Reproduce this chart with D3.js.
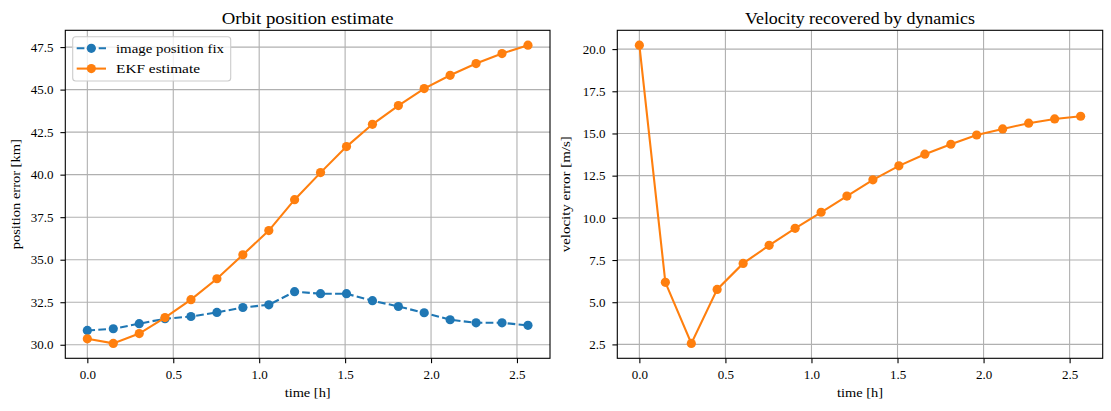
<!DOCTYPE html>
<html>
<head>
<meta charset="utf-8">
<script src="https://cdn.jsdelivr.net/npm/d3@7"></script>
<style>
  body { margin: 0; background: #fff; }
  svg { display: block; font-family: "Liberation Serif", "DejaVu Serif", serif; }
</style>
</head>
<body>
<svg id="chart" width="1111" height="411"></svg>
<script>
// time samples [h]
const times = [0, 0.151, 0.302, 0.452, 0.603, 0.754, 0.905, 1.056, 1.206, 1.357, 1.508, 1.659, 1.810, 1.960, 2.111, 2.262, 2.413, 2.564];
// position error [km]
const imageFix = [30.84, 30.94, 31.24, 31.53, 31.66, 31.90, 32.19, 32.35, 33.12, 33.00, 33.00, 32.59, 32.25, 31.88, 31.47, 31.29, 31.29, 31.14];
const ekfPos = [30.35, 30.08, 30.66, 31.60, 32.65, 33.88, 35.29, 36.71, 38.53, 40.12, 41.65, 42.96, 44.06, 45.06, 45.84, 46.53, 47.12, 47.61];
// velocity error [m/s]
const ekfVel = [20.23, 6.18, 2.56, 5.76, 7.30, 8.37, 9.38, 10.33, 11.29, 12.25, 13.08, 13.77, 14.36, 14.91, 15.27, 15.61, 15.86, 16.02];

const xTicks = [0, 0.5, 1.0, 1.5, 2.0, 2.5];
const posTicks = [30, 32.5, 35, 37.5, 40, 42.5, 45, 47.5];
const velTicks = [2.5, 5, 7.5, 10, 12.5, 15, 17.5, 20];

const blue = "#1f77b4", orange = "#ff7f0e";
const dash = "7.7,3.3";
const svg = d3.select("#chart");

// matplotlib style 5% margins
function padded(vals) {
  const [a, b] = d3.extent(vals);
  const m = (b - a) * 0.05;
  return [a - m, b + m];
}

// Liberation Serif is narrower than the LaTeX font, so stretch to the measured widths
function label(sel, x, y, txt, size, width) {
  const t = sel.append("text").attr("x", x).attr("y", y)
    .attr("font-size", size).text(txt);
  if (width) t.attr("textLength", width).attr("lengthAdjust", "spacingAndGlyphs");
  return t;
}

function panel(opts) {
  const { left, right, top, bottom } = opts;
  const x = d3.scaleLinear().domain(padded(times)).range([left, right]);
  const y = d3.scaleLinear().domain(padded(opts.allY)).range([bottom, top]);
  const g = svg.append("g");

  // grid
  g.selectAll(".vg").data(xTicks).enter().append("line")
    .attr("x1", d => x(d)).attr("x2", d => x(d))
    .attr("y1", top).attr("y2", bottom)
    .attr("stroke", "#b0b0b0").attr("stroke-width", 1.1);
  g.selectAll(".hg").data(opts.yTicks).enter().append("line")
    .attr("x1", left).attr("x2", right)
    .attr("y1", d => y(d)).attr("y2", d => y(d))
    .attr("stroke", "#b0b0b0").attr("stroke-width", 1.1);

  // series
  opts.series.forEach(s => {
    const pts = times.map((t, i) => [t, s.values[i]]);
    g.append("path").datum(pts)
      .attr("fill", "none").attr("stroke", s.color).attr("stroke-width", 2.1)
      .attr("stroke-dasharray", s.dashed ? dash : null)
      .attr("d", d3.line().x(d => x(d[0])).y(d => y(d[1])));
    g.selectAll(null).data(pts).enter().append("circle")
      .attr("cx", d => x(d[0])).attr("cy", d => y(d[1])).attr("r", 4.6)
      .attr("fill", s.color);
  });

  // axes
  const xa = g.append("g").attr("transform", `translate(0,${bottom})`)
    .call(d3.axisBottom(x).tickValues(xTicks).tickFormat(d3.format(".1f")).tickSize(4.9).tickPadding(6.5));
  const ya = g.append("g").attr("transform", `translate(${left},0)`)
    .call(d3.axisLeft(y).tickValues(opts.yTicks).tickFormat(d3.format(".1f")).tickSize(4.9).tickPadding(7));
  [xa, ya].forEach(a => {
    a.select(".domain").remove();
    a.selectAll("line").attr("stroke", "#000").attr("stroke-width", 1.1);
    a.selectAll("text").attr("font-size", 13).attr("fill", "#000")
      .attr("font-family", "Liberation Serif, serif");
  });

  g.append("rect").attr("x", left).attr("y", top)
    .attr("width", right - left).attr("height", bottom - top)
    .attr("fill", "none").attr("stroke", "#000").attr("stroke-width", 1.1);

  const cx = (left + right) / 2;
  label(g, cx, 23.5, opts.title, 17, opts.titleW).attr("text-anchor", "middle");
  label(g, cx, 396.5, "time [h]", 13.5, 46).attr("text-anchor", "middle");
  label(g, 0, 0, opts.ylabel, 13.5, opts.ylabelW)
    .attr("transform", `translate(${opts.ylabelX},${(top + bottom) / 2}) rotate(-90)`)
    .attr("text-anchor", "middle");
  return g;
}

const leftPanel = panel({
  left: 65.3, right: 550, top: 30.3, bottom: 358.3,
  allY: imageFix.concat(ekfPos), yTicks: posTicks,
  title: "Orbit position estimate", titleW: 172,
  ylabel: "position error [km]", ylabelW: 110, ylabelX: 20,
  series: [
    { values: imageFix, color: blue, dashed: true },
    { values: ekfPos, color: orange, dashed: false }
  ]
});

panel({
  left: 617.3, right: 1102.7, top: 30.3, bottom: 358.3,
  allY: ekfVel, yTicks: velTicks,
  title: "Velocity recovered by dynamics", titleW: 230,
  ylabel: "velocity error [m/s]", ylabelW: 116, ylabelX: 570,
  series: [{ values: ekfVel, color: orange, dashed: false }]
});

// legend
const legendItems = [
  { label: "image position fix", color: blue, dashed: true, w: 108 },
  { label: "EKF estimate", color: orange, dashed: false, w: 84 }
];
const lg = leftPanel.append("g");
lg.append("rect").attr("x", 72.7).attr("y", 36.8).attr("width", 158).attr("height", 44.2)
  .attr("rx", 3).attr("fill", "#fff").attr("fill-opacity", 0.8)
  .attr("stroke", "#cccccc").attr("stroke-width", 1.1);
legendItems.forEach((d, i) => {
  const cy = 48.3 + i * 20.3;
  lg.append("line").attr("x1", 76.7).attr("x2", 106).attr("y1", cy).attr("y2", cy)
    .attr("stroke", d.color).attr("stroke-width", 2.1)
    .attr("stroke-dasharray", d.dashed ? dash : null);
  lg.append("circle").attr("cx", 91.3).attr("cy", cy).attr("r", 4.6).attr("fill", d.color);
  label(lg, 116, cy + 4.8, d.label, 13.5, d.w);
});
</script>
</body>
</html>
